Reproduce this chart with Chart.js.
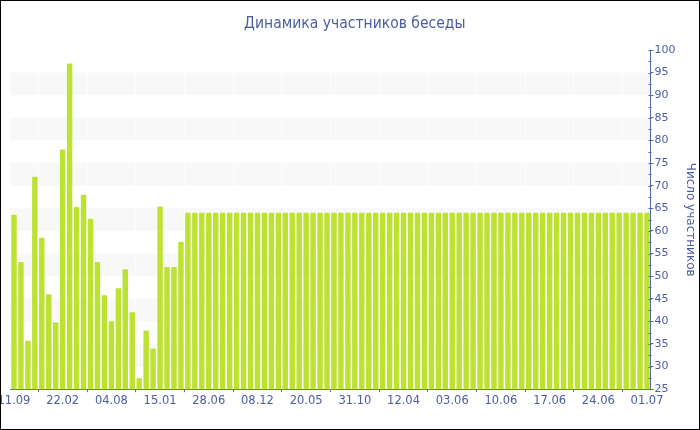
<!DOCTYPE html>
<html>
<head>
<meta charset="utf-8">
<script src="https://cdn.jsdelivr.net/npm/chart.js@4"></script>
<style>
  body { margin: 0; background: #fff; }
  #wrap { width: 698px; height: 428px; border: 1px solid #000; position: relative; }
</style>
</head>
<body>
<div id="wrap"><canvas id="miCanva"></canvas></div>
<script>
// подписи на оси X (каждый 7-й столбец)
const tickLabels = ['11.09', '22.02', '04.08', '15.01', '28.06', '08.12', '20.05',
  '31.10', '12.04', '03.06', '10.06', '17.06', '24.06', '01.07'];

// число участников
const firstValues = [63.6, 53.1, 35.7, 72, 58.5, 46, 39.8, 78, 97, 65.3, 68, 62.7, 53.1,
  45.8, 40, 47.3, 51.5, 42, 27.4, 38, 34, 65.4, 52, 52, 57.6];
const steadyValues = [
  64, 64, 64, 64, 64, 64, 64, 64, 64, 64, 64, 64, 64, 64, 64, 64, 64, 64, 64, 64,
  64, 64, 64, 64, 64, 64, 64, 64, 64, 64, 64, 64, 64, 64, 64, 64, 64, 64, 64, 64,
  64, 64, 64, 64, 64, 64, 64, 64, 64, 64, 64, 64, 64, 64, 64, 64, 64, 64, 64, 64,
  64, 64, 64, 64, 64, 64, 64];
const participants = firstValues.concat(steadyValues);

const labels = participants.map((v, i) => (i % 7 === 0 ? tickLabels[i / 7] : ''));

const blue = '#4a5ea3';
const axisBlue = '#5568aa';

// серые полосы и мелкие засечки на правой оси
const bands = {
  id: 'bands',
  beforeDraw(chart) {
    const { ctx, chartArea, scales: { y } } = chart;
    ctx.save();
    ctx.fillStyle = '#f8f8f8';
    for (let v = 30; v < 95; v += 10) {
      const top = y.getPixelForValue(v + 5);
      const bot = y.getPixelForValue(v);
      ctx.fillRect(chartArea.left, top, chartArea.right - chartArea.left, bot - top);
    }
    ctx.restore();
  },
  afterDraw(chart) {
    const { ctx, scales: { y } } = chart;
    const x = Math.round(y.left) + 0.5;
    ctx.save();
    ctx.strokeStyle = axisBlue;
    ctx.lineWidth = 1;
    ctx.beginPath();
    for (let v = 25; v <= 100; v += 2.5) {
      const py = Math.round(y.getPixelForValue(v)) + 0.5;
      ctx.moveTo(x - 3, py);
      ctx.lineTo(x, py);
    }
    ctx.stroke();
    ctx.restore();
  }
};

new Chart(document.getElementById('miCanva'), {
  type: 'bar',
  data: {
    labels: labels,
    datasets: [{
      label: 'Число участников',
      data: participants,
      backgroundColor: '#bde232',
      borderRadius: 1,
      barPercentage: 0.78,
      categoryPercentage: 1
    }]
  },
  options: {
    responsive: true,
    maintainAspectRatio: false,
    animation: false,
    layout: { padding: { left: 9.5, right: 0, top: 0, bottom: 19 } },
    plugins: {
      legend: { display: false },
      tooltip: { enabled: false },
      title: {
        display: true,
        text: 'Динамика участников беседы',
        color: blue,
        font: { family: '"DejaVu Sans Condensed", "DejaVu Sans"', size: 15.5, weight: 'normal' },
        padding: { top: 13.5, bottom: 16.9 }
      }
    },
    scales: {
      x: {
        afterFit(scale) { scale.paddingLeft = 0; scale.paddingRight = 0; },
        border: { color: axisBlue },
        grid: {
          color: 'rgba(255,255,255,0.7)',
          tickColor: axisBlue,
          tickLength: 3
        },
        ticks: {
          autoSkip: false,
          maxRotation: 0,
          padding: 2,
          color: blue,
          font: { family: 'DejaVu Sans', size: 11.5 },
          callback(val, i) { return labels[i] === '' ? null : labels[i]; }
        }
      },
      y: {
        position: 'right',
        min: 25,
        max: 100,
        afterFit(scale) { scale.width = 48.5; },
        border: { color: axisBlue },
        grid: { drawOnChartArea: false, tickColor: axisBlue, tickLength: 3 },
        ticks: {
          stepSize: 5,
          padding: 1,
          color: blue,
          font: { family: 'DejaVu Sans', size: 11 }
        },
        title: {
          display: true,
          text: 'Число участников',
          color: blue,
          font: { family: 'DejaVu Sans', size: 12 },
          padding: { top: 2, bottom: 2 }
        }
      }
    }
  },
  plugins: [bands]
});
</script>
</body>
</html>
